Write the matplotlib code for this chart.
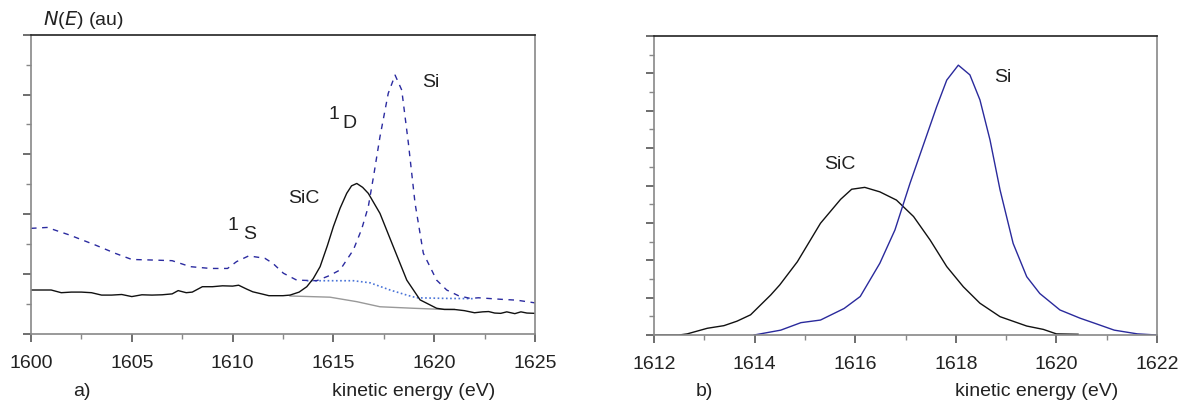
import numpy as np
import matplotlib
matplotlib.use("Agg")
import matplotlib.pyplot as plt
from matplotlib.ticker import MultipleLocator

plt.rcParams['font.family'] = ['Liberation Sans', 'DejaVu Sans']

# ---- panel a) : N(E) spectra ----
sic_a_x = [1600.0, 1600.5, 1601.0, 1601.5, 1602.0, 1602.5, 1603.0, 1603.5, 1604.0, 1604.5,
           1605.0, 1605.5, 1606.0, 1606.5, 1607.0, 1607.3, 1607.7, 1608.0, 1608.5, 1609.0,
           1609.5, 1610.0, 1610.3, 1610.7, 1611.0, 1611.5, 1611.8, 1612.5, 1612.85, 1613.3,
           1613.68, 1614.0, 1614.34, 1614.7, 1615.0, 1615.33, 1615.66, 1615.9, 1616.16, 1616.45,
           1616.73, 1617.31, 1617.97, 1618.64, 1619.3, 1620.12, 1620.5, 1621.0, 1621.5, 1622.0,
           1622.4, 1622.7, 1623.0, 1623.3, 1623.6, 1624.0, 1624.3, 1624.6, 1625.0]
sic_a_y = [1.47, 1.47, 1.47, 1.38, 1.40, 1.40, 1.38, 1.30, 1.30, 1.32,
           1.25, 1.31, 1.30, 1.31, 1.34, 1.45, 1.38, 1.40, 1.58, 1.58,
           1.61, 1.60, 1.63, 1.50, 1.41, 1.33, 1.28, 1.28, 1.30, 1.40,
           1.58, 1.85, 2.25, 2.95, 3.59, 4.20, 4.70, 4.95, 5.03, 4.90,
           4.70, 4.03, 2.92, 1.80, 1.14, 0.86, 0.82, 0.82, 0.78, 0.71,
           0.74, 0.75, 0.70, 0.69, 0.74, 0.68, 0.74, 0.70, 0.69]

si_a_x = [1600.0, 1600.8, 1601.9, 1603.2, 1604.2, 1605.0, 1606.1, 1607.0, 1607.9, 1608.9,
          1609.75, 1610.2, 1610.8, 1611.6, 1612.0, 1612.52, 1613.18, 1614.17, 1614.8, 1615.33,
          1615.99, 1616.4, 1616.73, 1617.0, 1617.31, 1617.72, 1618.06, 1618.39, 1618.72, 1619.05,
          1619.46, 1620.12, 1620.62, 1621.2, 1621.78, 1622.2, 1623.3, 1624.1, 1625.0]
si_a_y = [3.53, 3.56, 3.31, 2.97, 2.69, 2.49, 2.47, 2.45, 2.25, 2.19,
          2.19, 2.42, 2.61, 2.53, 2.36, 2.03, 1.80, 1.78, 1.95, 2.14,
          2.81, 3.50, 4.25, 5.30, 6.59, 8.04, 8.65, 8.15, 6.37, 4.37,
          2.70, 1.80, 1.47, 1.28, 1.19, 1.21, 1.16, 1.13, 1.04]

sic_bg_x = [1612.85, 1614.83, 1616.16, 1617.31, 1618.96, 1620.12, 1621.0]
sic_bg_y = [1.27, 1.23, 1.08, 0.91, 0.86, 0.83, 0.82]

si_bg_x = [1613.68, 1615.99, 1616.82, 1617.81, 1618.64, 1619.13, 1620.5, 1621.94]
si_bg_y = [1.78, 1.78, 1.71, 1.47, 1.30, 1.21, 1.19, 1.18]

# ---- panel b) : extracted peaks ----
sic_b_x = [1612.0, 1612.5, 1612.66, 1613.06, 1613.39, 1613.65, 1613.92, 1614.32, 1614.5, 1614.85,
           1615.31, 1615.71, 1615.93, 1616.19, 1616.49, 1616.82, 1617.16, 1617.49, 1617.82, 1618.15,
           1618.48, 1618.88, 1619.41, 1619.74, 1620.0, 1620.43]
sic_b_y = [0.0, 0.0, 0.03, 0.18, 0.25, 0.37, 0.54, 1.07, 1.34, 1.96,
           2.99, 3.63, 3.90, 3.95, 3.83, 3.61, 3.17, 2.54, 1.83, 1.29,
           0.85, 0.49, 0.24, 0.15, 0.03, 0.02]

si_b_x = [1613.99, 1614.52, 1614.92, 1615.31, 1615.78, 1616.10, 1616.49, 1616.79, 1617.09, 1617.39,
          1617.62, 1617.82, 1618.05, 1618.28, 1618.48, 1618.68, 1618.88, 1619.14, 1619.41, 1619.67,
          1620.07, 1620.47, 1620.77, 1621.15, 1621.61, 1622.0]
si_b_y = [0.0, 0.13, 0.33, 0.40, 0.71, 1.03, 1.92, 2.81, 4.06, 5.22,
          6.11, 6.82, 7.22, 6.96, 6.29, 5.22, 3.88, 2.45, 1.56, 1.11,
          0.67, 0.45, 0.31, 0.13, 0.03, 0.0]

FS = 14
W, H = 1179, 401
fig = plt.figure(figsize=(W / 100, H / 100), dpi=100)
ax1 = fig.add_axes([31 / W, (H - 334) / H, 504 / W, 299.3 / H])
ax2 = fig.add_axes([654 / W, (H - 335) / H, 503 / W, 299 / H])


def style(ax, xlim, ylim, xmaj, ymaj):
    ax.set_xlim(*xlim)
    ax.set_ylim(*ylim)
    ax.xaxis.set_major_locator(MultipleLocator(xmaj))
    ax.xaxis.set_minor_locator(MultipleLocator(xmaj / 2))
    ax.yaxis.set_major_locator(MultipleLocator(ymaj))
    ax.yaxis.set_minor_locator(MultipleLocator(ymaj / 2))
    ax.tick_params(which='both', direction='out', colors='#555555', labelcolor='#222222',
                   labelsize=FS, pad=9)
    ax.tick_params(which='major', length=6, width=1.2)
    ax.tick_params(which='minor', length=3.5, width=1.0, colors='#888888')
    ax.set_yticklabels([])
    for s in ['left', 'bottom', 'right']:
        ax.spines[s].set_color('#888888')
        ax.spines[s].set_linewidth(1.2)
    ax.spines['top'].set_color('#222222')
    ax.spines['top'].set_linewidth(1.2)


style(ax1, (1600, 1625), (0, 10), 5, 2)
style(ax2, (1612, 1622), (0, 8), 2, 1)

# panel a
ax1.plot(sic_bg_x, sic_bg_y, color='#999999', lw=1.0)
ax1.plot(si_bg_x, si_bg_y, color='#4a74d8', lw=1.2, linestyle=(0, (1, 1.5)))
ax1.plot(si_a_x, si_a_y, color='#2b2ba0', lw=1.0, linestyle=(0, (4, 4)))
ax1.plot(sic_a_x, sic_a_y, color='#111111', lw=1.0)

ax1.text(1619.84, 8.39, 'Si', fontsize=FS, ha='center', va='center', color='#222222')
ax1.text(1615.03, 7.32, '1', fontsize=FS, ha='center', va='center', color='#222222')
ax1.text(1615.82, 7.02, 'D', fontsize=FS, ha='center', va='center', color='#222222')
ax1.text(1613.54, 4.54, 'SiC', fontsize=FS, ha='center', va='center', color='#222222')
ax1.text(1610.02, 3.61, '1', fontsize=FS, ha='center', va='center', color='#222222')
ax1.text(1610.86, 3.31, 'S', fontsize=FS, ha='center', va='center', color='#222222')

# panel b
ax2.plot(sic_b_x, sic_b_y, color='#111111', lw=1.0)
ax2.plot(si_b_x, si_b_y, color='#2a2a9c', lw=1.0)
ax2.text(1618.94, 6.90, 'Si', fontsize=FS, ha='center', va='center', color='#222222')
ax2.text(1615.70, 4.57, 'SiC', fontsize=FS, ha='center', va='center', color='#222222')

# figure-level labels
fig.text(82 / W, 1 - 392 / H, 'a)', fontsize=FS, ha='center', va='center', color='#222222')
fig.text(414 / W, 1 - 391 / H, 'kinetic energy (eV)', fontsize=FS, ha='center', va='center', color='#222222')
fig.text(704 / W, 1 - 392 / H, 'b)', fontsize=FS, ha='center', va='center', color='#222222')
fig.text(1037 / W, 1 - 391 / H, 'kinetic energy (eV)', fontsize=FS, ha='center', va='center', color='#222222')
fig.text(43 / W, 1 - 20 / H, r'$\mathit{N}$($\mathit{E}$) (au)', fontsize=FS, ha='left', va='center',
         color='#222222')

fig.savefig('out.png', dpi=100)
